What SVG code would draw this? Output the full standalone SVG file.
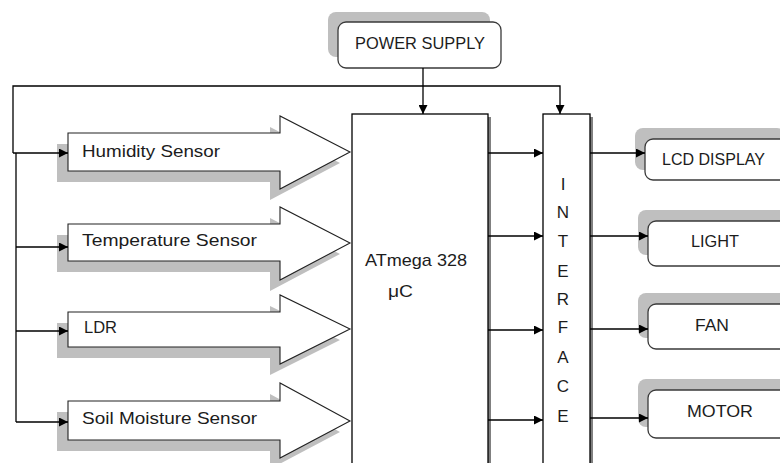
<svg xmlns="http://www.w3.org/2000/svg" width="780" height="463" viewBox="0 0 780 463">
<defs>
<marker id="ah" viewBox="0 0 10 10" refX="10" refY="5" markerWidth="9" markerHeight="9" markerUnits="userSpaceOnUse" orient="auto">
<path d="M0,0 L10,5 L0,10 z" fill="#000"/>
</marker>
</defs>
<style>
text{font-family:"Liberation Sans",Arial,sans-serif;fill:#1c1c1c;font-size:17px}
.sh{fill:#bfbfbf}
.box{fill:#fff;stroke:#3a3a3a;stroke-width:1.3}
.blk{fill:#fff;stroke:#000;stroke-width:1.3}
.ln{fill:none;stroke:#000;stroke-width:1.3}
.arr{fill:#fff;stroke:#222;stroke-width:1.1}
.c{text-anchor:middle}
</style>
<rect width="780" height="463" fill="#fff"/>

<g id="power">
<rect class="sh" x="328" y="12" width="162" height="45" rx="8"/>
<rect class="box" x="338" y="22" width="163" height="46" rx="8"/>
<text x="355" y="49" textLength="130" lengthAdjust="spacingAndGlyphs">POWER SUPPLY</text>
</g>

<g id="humidity">
<path class="sh" d="M57,144 H270 V127 L340,163 L270,200 V182 H57 z"/>
<path class="arr" d="M68,133 H280 V116 L350,152 L280,189 V171 H68 z"/>
<text x="82" y="157" textLength="138" lengthAdjust="spacingAndGlyphs">Humidity Sensor</text>
</g>
<g id="temperature">
<path class="sh" d="M57,235 H270 V218 L340,254 L270,291 V272 H57 z"/>
<path class="arr" d="M68,224 H280 V207 L350,243 L280,280 V261 H68 z"/>
<text x="82" y="246" textLength="175" lengthAdjust="spacingAndGlyphs">Temperature Sensor</text>
</g>
<g id="ldr">
<path class="sh" d="M57,323 H270 V306 L340,340 L270,375 V358 H57 z"/>
<path class="arr" d="M68,312 H280 V295 L350,329 L280,364 V347 H68 z"/>
<text x="84" y="333" textLength="33" lengthAdjust="spacingAndGlyphs">LDR</text>
</g>
<g id="soil">
<path class="sh" d="M57,412 H270 V394 L340,432 L270,469 V451 H57 z"/>
<path class="arr" d="M68,401 H280 V383 L350,421 L280,458 V440 H68 z"/>
<text x="82" y="424" textLength="175" lengthAdjust="spacingAndGlyphs">Soil Moisture Sensor</text>
</g>

<g id="mcu">
<rect x="355" y="117" width="136" height="360" fill="#808080"/>
<rect class="blk" x="352" y="114" width="136" height="360"/>
<text x="365" y="266" textLength="102" lengthAdjust="spacingAndGlyphs">ATmega 328</text>
<text x="388" y="297" textLength="25" lengthAdjust="spacingAndGlyphs">μC</text>
</g>

<g id="interface">
<rect x="546" y="117" width="47" height="360" fill="#808080"/>
<rect class="blk" x="543" y="114" width="47" height="360"/>
<g class="c" style="font-size:16px">
<text x="563" y="190">I</text>
<text x="563" y="218">N</text>
<text x="563" y="247">T</text>
<text x="563" y="277">E</text>
<text x="563" y="305">R</text>
<text x="563" y="333">F</text>
<text x="563" y="363">A</text>
<text x="563" y="392">C</text>
<text x="563" y="422">E</text>
</g>
</g>

<g id="lcd">
<rect class="sh" x="635" y="128" width="150" height="42" rx="8"/>
<rect class="box" x="645" y="139" width="150" height="41" rx="8"/>
<text x="662" y="165" textLength="103" lengthAdjust="spacingAndGlyphs">LCD DISPLAY</text>
</g>
<g id="light">
<rect class="sh" x="638" y="210" width="150" height="45" rx="8"/>
<rect class="box" x="648" y="221" width="150" height="45" rx="8"/>
<text x="691" y="247" textLength="48" lengthAdjust="spacingAndGlyphs">LIGHT</text>
</g>
<g id="fan">
<rect class="sh" x="638" y="293" width="150" height="45" rx="8"/>
<rect class="box" x="648" y="304" width="150" height="45" rx="8"/>
<text x="695" y="331" textLength="34" lengthAdjust="spacingAndGlyphs">FAN</text>
</g>
<g id="motor">
<rect class="sh" x="638" y="379" width="150" height="48" rx="8"/>
<rect class="box" x="648" y="390" width="150" height="48" rx="8"/>
<text x="687" y="417" textLength="66" lengthAdjust="spacingAndGlyphs">MOTOR</text>
</g>

<g id="connectors">
<path class="ln" d="M423,68 V114" marker-end="url(#ah)"/>
<path class="ln" d="M13,153 V86 H560 V114" marker-end="url(#ah)"/>
<path class="ln" d="M13,153 H68" marker-end="url(#ah)"/>
<path class="ln" d="M16,153 V422"/>
<path class="ln" d="M16,247 H68" marker-end="url(#ah)"/>
<path class="ln" d="M16,331 H68" marker-end="url(#ah)"/>
<path class="ln" d="M16,422 H68" marker-end="url(#ah)"/>
<path class="ln" d="M488,153 H543" marker-end="url(#ah)"/>
<path class="ln" d="M488,236 H543" marker-end="url(#ah)"/>
<path class="ln" d="M488,330 H543" marker-end="url(#ah)"/>
<path class="ln" d="M488,420 H543" marker-end="url(#ah)"/>
<path class="ln" d="M590,153 H645" marker-end="url(#ah)"/>
<path class="ln" d="M590,236 H648" marker-end="url(#ah)"/>
<path class="ln" d="M590,329 H648" marker-end="url(#ah)"/>
<path class="ln" d="M590,418 H648" marker-end="url(#ah)"/>
</g>
</svg>
